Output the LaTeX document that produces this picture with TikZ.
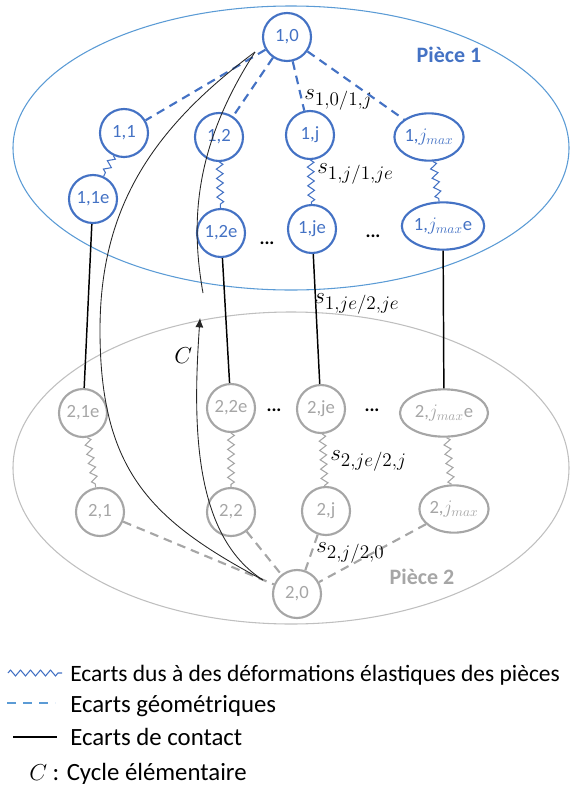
\documentclass[tikz,border=0pt]{standalone}
\usepackage{fontspec}
\setmainfont{Carlito}
\usetikzlibrary{shapes.geometric,decorations.pathmorphing,arrows.meta}
\definecolor{PartOneClr}{RGB}{68,114,196}
\definecolor{PartOneLine}{RGB}{91,155,213}
\definecolor{PartTwoClr}{RGB}{166,166,166}
\definecolor{PartTwoLine}{RGB}{191,191,191}

\begin{document}
\begin{tikzpicture}[x=.75pt,y=-.75pt,
  one/.style={circle,draw=PartOneClr,text=PartOneClr,line width=1.6pt,minimum size=36pt,inner sep=0pt,font=\fontsize{14}{16}\selectfont},
  two/.style={one,draw=PartTwoClr,text=PartTwoClr},
  oval/.style={ellipse,minimum width=48pt,minimum height=35.5pt},
  geo/.style={dash pattern=on 6.5pt off 4.5pt,line width=1.6pt},
  elas/.style={decorate,decoration={zigzag,segment length=7pt,amplitude=2.5pt},line width=.8pt},
  cont/.style={line width=1.1pt},
  cyc/.style={line width=.65pt,black!85},
  slab/.style={anchor=base west,inner sep=0pt,font=\fontsize{19}{22}\selectfont},
  dots/.style={anchor=base,inner sep=0pt,font=\bfseries\fontsize{14}{16}\selectfont},
  leg/.style={anchor=base west,inner sep=0pt,font=\fontsize{18.6}{22}\selectfont}]

\useasboundingbox (0,0) rectangle (569,786);

% les deux pieces
\draw[PartOneLine,line width=.8pt] (291,148) ellipse [x radius=208.5pt,y radius=106.5pt];
\draw[PartTwoLine,line width=.8pt] (291,468) ellipse [x radius=208.5pt,y radius=117pt];
\node[font=\bfseries\fontsize{16.5}{18}\selectfont,text=PartOneClr] (p1) at (449,55) {Pièce 1};
\node[font=\bfseries\fontsize{16.5}{18}\selectfont,text=PartTwoClr] (p2) at (422,577) {Pièce 2};

\node[one] (a0) at (287,37) {1,0};
\node[one] (a1) at (124,133) {1,1};
\node[one] (a1e) at (93,199) {1,1e};
\node[one] (a2) at (219,137) {1,2};
\node[one] (a2e) at (221,233) {1,2e};
\node[one] (aj) at (310,135) {1,j};
\node[one] (aje) at (312,229) {1,je};
\node[one,oval] (am) at (429,137) {1,$j_{max}$};
\node[one,oval] (ame) at (443,226) {1,$j_{max}$e};

\node[two] (b1e) at (83,413) {2,1e};
\node[two] (b2e) at (231,408) {2,2e};
\node[two] (bje) at (321,409) {2,je};
\node[two,oval,minimum width=66pt] (bme) at (444,413) {2,$j_{max}$e};
\node[two] (b1) at (100,512) {2,1};
\node[two] (b2) at (231,512) {2,2};
\node[two] (bj) at (326,511) {2,j};
\node[two,oval] (bm) at (454,509) {2,$j_{max}$};
\node[two] (b0) at (297,594) {2,0};

\foreach \n in {a1,a2,aj,am} \draw[geo,PartOneClr] (a0) -- (\n);
\foreach \u/\v in {a1/a1e,a2/a2e,aj/aje,am/ame} \draw[elas,PartOneClr] (\u) -- (\v);
\foreach \u/\v in {a1e/b1e,a2e/b2e,aje/bje,ame/bme} \draw[cont] (\u) -- (\v);
\foreach \u/\v in {b1e/b1,b2e/b2,bje/bj,bme/bm} \draw[elas,PartTwoClr] (\u) -- (\v);
\foreach \n in {b1,b2,bj,bm} \draw[geo,PartTwoClr] (\n) -- (b0);

\node[slab] (s10) at (304,99) {$s_{1,0/1,j}$};
\node[slab] (s1j) at (317,173) {$s_{1,j/1,je}$};
\node[slab] (s1e) at (314,303) {$s_{1,je/2,je}$};
\node[slab] (s2e) at (330,460) {$s_{2,je/2,j}$};
\node[slab] (s2j) at (316,552) {$s_{2,j/2,0}$};

\node[dots] (d1) at (267,244) {...};
\node[dots] (d2) at (373,237) {...};
\node[dots] (d3) at (274,411) {...};
\node[dots] (d4) at (372,411) {...};

% cycle elementaire
\coordinate (cTop) at (255,52);
\coordinate (cBot) at (263,580);
\coordinate (cEnd) at (203,293);
\coordinate (cTip) at (200,318);
\draw[cyc] (cTop) .. controls (150,130) and (100,210) .. (100,330) .. controls (100,470) and (150,520) .. (cBot);
\draw[cyc] (cTop) .. controls (195,145) and (190,220) .. (cEnd);
\draw[cyc,-{Latex[length=7pt,width=6pt]}] (cBot) .. controls (192,535) and (193,420) .. (cTip);
\node[slab] (cyc) at (174,363) {$C$};

% legende
\coordinate (z0) at (8,673);
\coordinate (z1) at (62,673);
\draw[elas,PartOneClr,decoration={segment length=7.5pt,amplitude=2.2pt}] (z0) -- (z1);
\node[leg,font=\fontsize{17.6}{21}\selectfont] (l1) at (70,681) {Ecarts dus à des déformations élastiques des pièces};
\coordinate (g0) at (7,703);
\coordinate (g1) at (55,703);
\draw[geo,PartOneLine,dash pattern=on 7pt off 5pt,line width=1.5pt] (g0) -- (g1);
\node[leg] (l2) at (70,712) {Ecarts géométriques};
\coordinate (k0) at (13,737);
\coordinate (k1) at (57,737);
\draw[line width=.9pt] (k0) -- (k1);
\node[leg] (l3) at (70,745) {Ecarts de contact};
\node[leg] (l4) at (29,780) {$C$ : Cycle élémentaire};

\end{tikzpicture}
\end{document}
